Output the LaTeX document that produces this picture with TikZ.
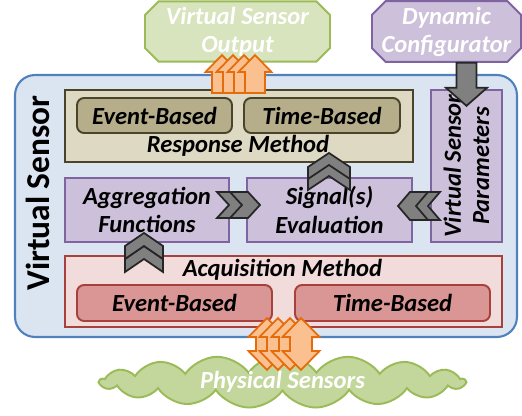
\documentclass[tikz,border=0pt]{standalone}
\usepackage{fontspec}
\setmainfont{Carlito}
\usetikzlibrary{shapes.misc,shapes.symbols}

\definecolor{vsfill}{HTML}{DBE5F1}
\definecolor{vsline}{HTML}{4F81BD}
\definecolor{rmfill}{HTML}{DDD9C3}
\definecolor{rmitem}{HTML}{B6AE8A}
\definecolor{rmline}{HTML}{4A452A}
\definecolor{pufill}{HTML}{CCC0DA}
\definecolor{puline}{HTML}{8064A2}
\definecolor{amfill}{HTML}{F2DCDB}
\definecolor{amitem}{HTML}{D99694}
\definecolor{amline}{HTML}{A8403C}
\definecolor{grfill}{HTML}{D7E4BD}
\definecolor{grline}{HTML}{9BBB59}
\definecolor{cloudfill}{HTML}{C3D69B}
\definecolor{orfill}{HTML}{FAC090}
\definecolor{orline}{HTML}{E46C0A}

\tikzset{
	txt/.style={font=\fontsize{14}{16}\selectfont\bfseries\itshape,align=center},
	panel/.style={shape=rectangle,draw=#1,line width=1.1pt,inner sep=0pt},
	item/.style={shape=rectangle,rounded corners=4pt,draw=#1,line width=1.1pt,inner sep=0pt,txt},
	orange/.style={draw=orline,fill=orfill,line width=1pt,line join=miter},
	grey/.style={draw=black!85,fill=black!50,line width=1pt,line join=miter},
	% length / head length / half head / half shaft, pointing along x from the tail
	pics/blockarrow/.style n args={4}{code={
		\path[pic actions] (0,-#4) -- ({#1-#2},-#4) -- ({#1-#2},-#3) -- (#1,0)
			-- ({#1-#2},#3) -- ({#1-#2},#4) -- (0,#4) -- cycle;}},
	pics/twoarrow/.style n args={4}{code={
		\path[pic actions] (#2,-#4) -- ({#1-#2},-#4) -- ({#1-#2},-#3) -- (#1,0)
			-- ({#1-#2},#3) -- ({#1-#2},#4) -- (#2,#4) -- (#2,#3) -- (0,0) -- (#2,-#3) -- cycle;}},
	% half width / point / straight part
	pics/chev/.style n args={3}{code={
		\path[pic actions] (0,-#1) -- (#3,-#1) -- ({#3+#2},0) -- (#3,#1) -- (0,#1) -- (#2,0) -- cycle;}}
}

\begin{document}
\begin{tikzpicture}[x=0.02cm,y=-0.02cm]
	\useasboundingbox (0,0) rectangle (522,416);

	% virtual sensor frame
	\node [shape=rectangle,rounded corners=0.4cm,draw=vsline,fill=vsfill,line width=1.2pt,inner sep=0pt,
		minimum width=10.04cm,minimum height=5.24cm] (VS) at (266,206) {};
	\node [font=\fontsize{19}{20}\selectfont\bfseries,rotate=90] (VST) at (38,193) {Virtual Sensor};

	% response method
	\node [panel=rmline,fill=rmfill,minimum width=6.96cm,minimum height=1.44cm] (RM) at (239,126) {};
	\node [item=rmline,fill=rmitem,minimum width=3.1cm,minimum height=0.7cm] (RE) at (154.5,115.5) {Event-Based};
	\node [item=rmline,fill=rmitem,minimum width=3.12cm,minimum height=0.7cm] (RT) at (322,115.5) {Time-Based};
	\node [txt] (RML) at (238,146) {Response Method};

	% processing
	\node [panel=puline,fill=pufill,txt,minimum width=3.28cm,minimum height=1.28cm] (AF) at (147,210) {Aggregation\\Functions};
	\node [panel=puline,fill=pufill,txt,minimum width=3.3cm,minimum height=1.28cm] (SE) at (329.5,210) {Signal(s)\\Evaluation};
	\node [panel=puline,fill=pufill,txt,rotate=90,minimum width=3.04cm,minimum height=1.42cm] (VSP) at (466.5,166) {Virtual Sensor\\Parameters};

	% acquisition method
	\node [panel=amline,fill=amfill,minimum width=8.74cm,minimum height=1.42cm] (AM) at (283.5,291.5) {};
	\node [item=amline,fill=amitem,minimum width=3.9cm,minimum height=0.72cm] (AE) at (174.5,303) {Event-Based};
	\node [item=amline,fill=amitem,minimum width=3.9cm,minimum height=0.72cm] (AT) at (392.5,303) {Time-Based};
	\node [txt] (AML) at (282.5,270) {Acquisition Method};

	% outside
	\node [chamfered rectangle,chamfered rectangle xsep=0.16cm,draw=grline,fill=grfill,line width=1.1pt,inner sep=0pt,
		txt,text=white,minimum width=3.7cm,minimum height=1.02cm] (VSO) at (237.5,31.5) {Virtual Sensor\\Output};
	\node [chamfered rectangle,chamfered rectangle xsep=0.16cm,draw=puline,fill=pufill,line width=1.1pt,inner sep=0pt,
		txt,text=white,minimum width=2.98cm,minimum height=1.02cm] (DC) at (446.5,31.5) {Dynamic\\Configurator};
	\node [cloud,cloud puffs=17,cloud puff arc=110,cloud ignores aspect,draw=grline,fill=cloudfill,line width=1.1pt,
		inner sep=0pt,txt,text=white,minimum width=7.3cm,minimum height=1.06cm] (PS) at (282.5,381.5) {Physical Sensors};

	% block arrows
	\pic [grey,rotate=-90] at (VSP.east |- DC.south) {blockarrow={43}{18}{20.5}{10}};
	\foreach \x in {222,233,244,255}
		\pic [orange,rotate=90] at (\x,93) {blockarrow={38}{17}{16.5}{10}};
	\foreach \x in {267,278,290,301}
		\pic [orange,rotate=90] at (\x,370) {twoarrow={52}{19}{18.5}{11}};

	% chevrons
	\pic [grey,rotate=90] at (329,190) {chev={21}{14}{12}};
	\pic [grey,rotate=90] at (329,179) {chev={21}{14}{12}};
	\pic [grey,rotate=90] at (144,272) {chev={19}{13}{13}};
	\pic [grey,rotate=90] at (144,259) {chev={19}{13}{13}};
	\pic [grey] at (217,205) {chev={13}{12}{18}};
	\pic [grey] at (230,205) {chev={13}{12}{18}};
	\pic [grey,rotate=180] at (440,206) {chev={14}{12}{18}};
	\pic [grey,rotate=180] at (428,206) {chev={14}{12}{18}};
\end{tikzpicture}
\end{document}
